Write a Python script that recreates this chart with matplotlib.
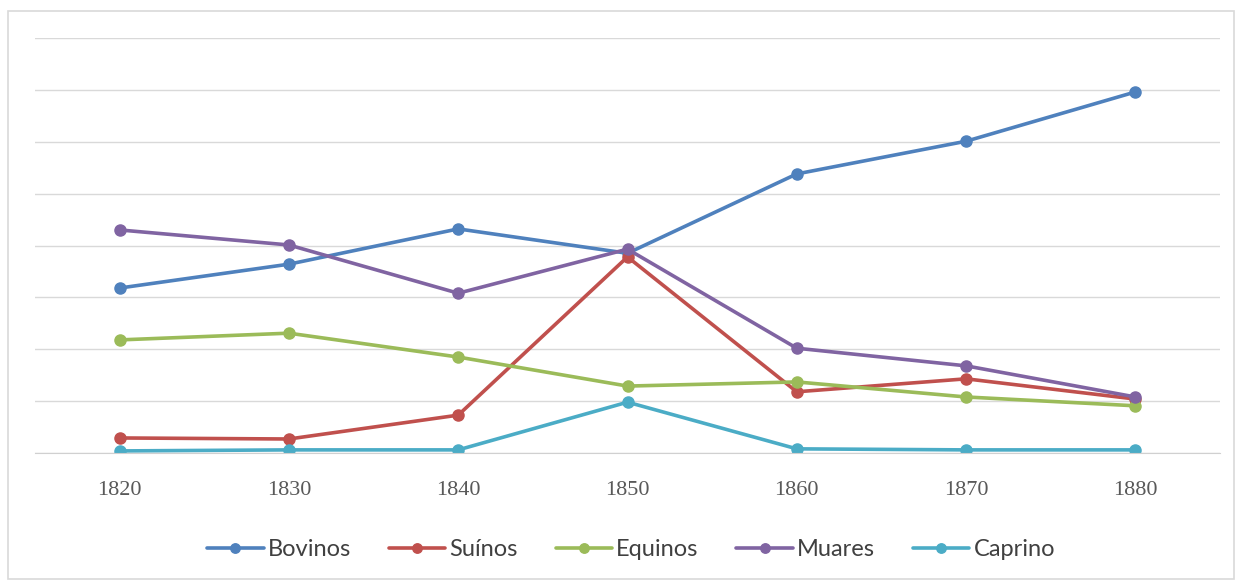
import matplotlib.pyplot as plt
from matplotlib.patches import Rectangle

# Rebanhos por década
anos = ['1820', '1830', '1840', '1850', '1860', '1870', '1880']
bovinos = [3.18, 3.64, 4.32, 3.85, 5.38, 6.01, 6.96]
suinos = [0.29, 0.27, 0.73, 3.78, 1.18, 1.43, 1.04]
equinos = [2.18, 2.31, 1.85, 1.29, 1.37, 1.08, 0.91]
muares = [4.30, 4.01, 3.08, 3.93, 2.02, 1.68, 1.08]
caprino = [0.04, 0.06, 0.06, 0.98, 0.08, 0.06, 0.06]

series = [
    ('Bovinos', bovinos, '#4F81BD'),
    ('Suínos', suinos, '#C0504D'),
    ('Equinos', equinos, '#9BBB59'),
    ('Muares', muares, '#8064A2'),
    ('Caprino', caprino, '#4BACC6'),
]

W, H = 1237, 581
fig = plt.figure(figsize=(W / 100, H / 100), dpi=100)
ax = fig.add_axes([35 / W, (H - 453) / H, (1220 - 35) / W, (453 - 38) / H])

# moldura externa do gráfico
fig.patches.append(Rectangle((8 / W, 2 / H), (1234 - 8) / W, (570 - 2) / H,
                             transform=fig.transFigure, fill=False,
                             edgecolor='#D9D9D9', linewidth=1.2))

x = range(len(anos))
for nome, vals, cor in series:
    ax.plot(x, vals, color=cor, linewidth=2.6, marker='o', markersize=8,
            label=nome, solid_capstyle='round')

ax.set_xlim(-0.5, len(anos) - 0.5)
ax.set_ylim(0, 8)
ax.set_yticks(range(0, 9))
ax.yaxis.grid(True, color='#D9D9D9', linewidth=1)
ax.set_axisbelow(True)
ax.tick_params(axis='y', left=False, labelleft=False)
ax.tick_params(axis='x', length=0, pad=20)
ax.set_xticks(list(x))
ax.set_xticklabels(anos, family='Liberation Serif', fontsize=16, color='#595959')

for lado in ['top', 'right', 'left']:
    ax.spines[lado].set_visible(False)
ax.spines['bottom'].set_color('#D0D0D0')

leg = fig.legend(loc='center', bbox_to_anchor=(631 / W, 1 - 550 / H), ncol=5,
                 frameon=False, handlelength=2.4, columnspacing=1.6,
                 handletextpad=0.17, markerscale=0.85,
                 prop={'family': 'Lato', 'size': 17})
for t in leg.get_texts():
    t.set_color('#404040')

fig.savefig('out.png', dpi=100)
